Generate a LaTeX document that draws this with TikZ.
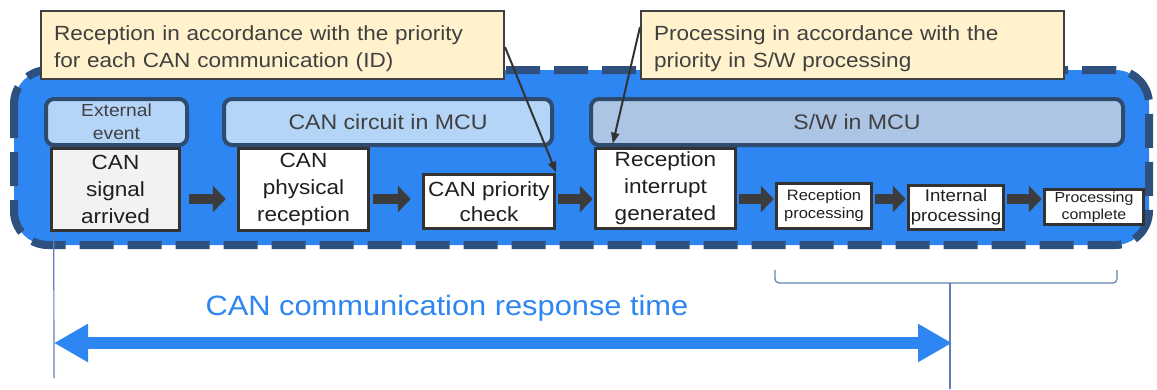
\documentclass[tikz,border=0pt]{standalone}
\usepackage{fontspec}
\setmainfont{Liberation Sans}[FakeStretch=1.1]
\usepackage{tikz}
\usetikzlibrary{positioning}
\usetikzlibrary{arrows.meta}
\definecolor{bigblue}{RGB}{46,134,242}
\definecolor{dashblue}{RGB}{46,80,126}
\definecolor{hdrlight}{RGB}{180,212,248}
\definecolor{hdrgray}{RGB}{173,197,228}
\definecolor{hdrline}{RGB}{46,74,108}
\definecolor{boxline}{RGB}{51,51,51}
\definecolor{callfill}{RGB}{255,242,204}
\definecolor{callline}{RGB}{64,64,64}
\definecolor{txtgray}{RGB}{64,64,64}
\definecolor{arrgray}{RGB}{60,60,60}
\definecolor{guideblue}{RGB}{95,127,180}
\newcommand\setfs[2]{\fontsize{#1}{#2}\selectfont}
\tikzset{hdr/.style={draw=hdrline, line width=4pt, rounded corners=8pt, minimum height=46pt, text=txtgray, align=center, inner sep=1pt}}
\tikzset{stage/.style={draw=boxline, line width=3.5pt, fill=white, align=center, inner sep=1pt, text=black!88}}
\tikzset{note/.style={draw=callline, line width=2pt, fill=callfill, align=left, text=txtgray, inner xsep=13pt, minimum height=68pt, text height=22pt, font=\setfs{20.5}{27}}}
\tikzset{fat/.style={draw=arrgray, line width=10pt, -{Triangle[length=13pt,width=26pt]}, shorten <=2pt, shorten >=1pt}}
\tikzset{pointer/.style={draw=boxline, line width=2pt, -{Triangle[length=11pt,width=8pt]}}}
\tikzset{guide/.style={draw=guideblue, line width=1.2pt}}

\begin{document}
\begin{tikzpicture}[x=1pt,y=-1pt]
\useasboundingbox (0,0) rectangle (1157,389);
% dashed frame
\draw[line width=8pt, draw=dashblue, fill=bigblue, dash pattern=on 34pt off 14pt, rounded corners=34pt] (14,70) rectangle (1149,245);
% headers
\node[hdr, fill=hdrlight, minimum width=141pt, font=\setfs{17.5}{23}] (ext) at (116.5,122) {External\\event};
\node[hdr, fill=hdrlight, minimum width=328pt, font=\setfs{21}{24}] (circ) at (388,122) {CAN circuit in MCU};
\node[hdr, fill=hdrgray, minimum width=532pt, font=\setfs{21}{24}] (sw) at (857,122) {S/W in MCU};
% stages
\node[stage, fill=black!5, minimum width=128pt, minimum height=82pt, font=\setfs{20.5}{27}] (sig) at (115.5,189.5) {CAN\\signal\\arrived};
\node[stage, minimum width=130pt, minimum height=82pt, font=\setfs{20.5}{27}] (phys) at (303.5,189.5) {CAN\\physical\\reception};
\node[stage, minimum width=131pt, minimum height=54pt, font=\setfs{20.5}{25}] (prio) at (489,201.5) {CAN priority\\check};
\node[stage, minimum width=140pt, minimum height=80pt, font=\setfs{20.5}{27}] (intr) at (665.5,188.5) {Reception\\interrupt\\generated};
\node[stage, minimum width=95pt, minimum height=45pt, font=\setfs{15}{18}] (rproc) at (824,206) {Reception\\processing};
\node[stage, minimum width=95pt, minimum height=44pt, font=\setfs{17}{20}] (iproc) at (956,207.5) {Internal\\processing};
\node[stage, minimum width=99pt, minimum height=35pt, font=\setfs{14.5}{17}] (done) at (1094,207) {Processing\\complete};
% flow
\coordinate (lvl) at (0,199);
\draw[fat, shorten <=8pt, shorten >=11pt] (sig.east |- lvl) -- (phys.west |- lvl);
\draw[fat, shorten <=3pt, shorten >=11pt] (phys.east |- lvl) -- (prio.west |- lvl);
\draw[fat] (prio.east |- lvl) -- (intr.west |- lvl);
\draw[fat] (intr.east |- lvl) -- (rproc.west |- lvl);
\draw[fat] (rproc.east |- lvl) -- (iproc.west |- lvl);
\draw[fat] (iproc.east |- lvl) -- (done.west |- lvl);
% notes
\node[note, minimum width=463pt, text width=437pt] (note1) at (272.5,45) {Reception in accordance with the priority\\for each CAN communication (ID)};
\node[note, minimum width=423pt, text width=397pt] (note2) at (852.5,45) {Processing in accordance with the\\priority in S/W processing};
\draw[pointer] ([yshift=-2pt]note1.east) -- (prio.north east);
\draw[pointer] ([yshift=18pt]note2.west) -- ([xshift=19pt,yshift=3pt]intr.north west);
% response time
\coordinate (lb) at (54,378);
\coordinate (ra) at (952,343);
\coordinate (bl) at (775,270);
\coordinate (br) at (1117,270);
\coordinate (bm) at (950,283);
\coordinate (bb) at (950,389);
\draw[guide] ([xshift=4pt]sig.south west) -- (lb);
\draw[guide, rounded corners=4pt] (bl) -- (bl |- bm) -- (br |- bm) -- (br);
\draw[guide] (bm) -- (bb);
\draw[draw=bigblue, line width=12pt, {Triangle[length=34pt,width=36pt]}-{Triangle[length=34pt,width=36pt]}] (lb |- ra) -- (ra);
\node[text=bigblue, font=\setfs{28}{34}] (rt) at (447,308) {CAN communication response time};
\end{tikzpicture}
\end{document}
